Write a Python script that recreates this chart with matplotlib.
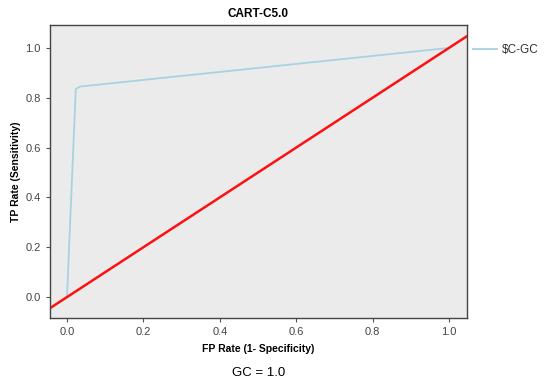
import matplotlib
matplotlib.use("Agg")
import matplotlib.pyplot as plt

# ROC curve points
fp_rate = [0.0, 0.023, 0.034, 1.0]
tp_rate = [0.0, 0.835, 0.845, 1.0]
series_name = r"\$C-GC"
ref_line = [-0.05, 1.1]

plt.rcParams['font.family'] = ['Liberation Sans', 'DejaVu Sans']

fig = plt.figure(figsize=(5.5, 3.82), dpi=100)
ax = fig.add_axes([0.0909, 0.1675, 0.758, 0.767])
ax.set_facecolor('#ebebeb')

ax.plot(fp_rate, tp_rate, color='#a8d2e2', linewidth=1.3, label=series_name)
ax.plot(ref_line, ref_line, color='#ff1010', linewidth=1.8)

ax.set_xlim(-0.0445, 1.047)
ax.set_ylim(-0.084, 1.092)
ticks = [0.0, 0.2, 0.4, 0.6, 0.8, 1.0]
ax.set_xticks(ticks)
ax.set_yticks(ticks)
ax.set_xticklabels([f'{t:.1f}' for t in ticks])
ax.set_yticklabels([f'{t:.1f}' for t in ticks])
ax.tick_params(direction='out', length=3, width=0.8, colors='#555555',
               labelsize=8, labelcolor='#444444')

for s in ax.spines.values():
    s.set_color('#444444')
    s.set_linewidth(1.0)

ax.set_title('CART-C5.0', fontsize=8.5, fontweight='bold', pad=6)
ax.set_xlabel('FP Rate (1- Specificity)', fontsize=7.5, fontweight='bold', labelpad=5)
ax.set_ylabel('TP Rate (Sensitivity)', fontsize=7.5, fontweight='bold', labelpad=3)

leg = ax.legend(loc='upper left', bbox_to_anchor=(0.99, 0.97), frameon=False,
                fontsize=8.5, handlelength=2.0, handletextpad=0.4)
for t in leg.get_texts():
    t.set_color('#333333')

fig.text(0.47, 0.008, 'GC = 1.0', ha='center', va='bottom', fontsize=9.5)

fig.savefig('out.png', dpi=100, facecolor='white')
